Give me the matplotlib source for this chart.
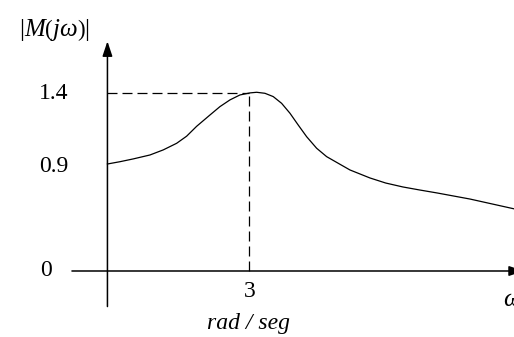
import matplotlib
matplotlib.use("Agg")
import matplotlib.pyplot as plt

plt.rcParams["font.family"] = ["Liberation Serif", "DejaVu Serif"]
plt.rcParams["mathtext.fontset"] = "custom"
plt.rcParams["mathtext.rm"] = "Liberation Serif"
plt.rcParams["mathtext.it"] = "Liberation Serif:italic"

# curva |M(jw)| (w en rad/seg)
w = [0.0, 0.264, 0.545, 0.898, 1.179, 1.462, 1.673, 1.885, 2.166, 2.377,
     2.589, 2.8, 3.011, 3.152, 3.328, 3.503, 3.68, 3.856, 4.031, 4.209,
     4.42, 4.631, 4.912, 5.124, 5.546, 5.88, 6.243, 6.6, 6.962, 7.659, 8.6]
M = [0.843, 0.861, 0.883, 0.914, 0.954, 1.006, 1.062, 1.14, 1.229, 1.295,
     1.348, 1.387, 1.403, 1.408, 1.4, 1.374, 1.321, 1.243, 1.15, 1.058,
     0.967, 0.901, 0.841, 0.796, 0.733, 0.693, 0.662, 0.638, 0.615, 0.567, 0.489]

# marcas del eje vertical (posicion en la figura, texto)
y_pos = [0.0, 0.825, 1.4]
y_txt = ["0", "0.9", "1.4"]
w_pico = 3
M_pico = 1.4

fig = plt.figure(figsize=(5.14, 3.37), dpi=100)
ax = fig.add_axes([0, 0, 1, 1])
ax.set_xlim(-2.27, 8.59)
ax.set_ylim(-0.52, 2.135)
ax.axis("off")

# ejes con flecha
flecha = dict(arrowstyle="-|>,head_length=0.9,head_width=0.3",
              color="black", lw=1.1, shrinkA=0, shrinkB=0)
ax.annotate("", xy=(0, 1.81), xytext=(0, -0.28), arrowprops=flecha,
            annotation_clip=False)
ax.annotate("", xy=(8.8, 0), xytext=(-0.75, 0), arrowprops=flecha,
            annotation_clip=False)

# lineas punteadas al pico
ax.plot([0, w_pico], [M_pico, M_pico], color="black", lw=0.9, ls=(0, (8, 4)))
ax.plot([w_pico, w_pico], [0, M_pico], color="black", lw=0.9, ls=(0, (8, 4)))

ax.plot(w, M, color="black", lw=0.9)

for p, t in zip(y_pos, y_txt):
    x_txt = -1.17 if t == "0" else -0.83
    ax.text(x_txt, p, t, fontsize=17, ha="right", va="center")

ax.text(w_pico, -0.165, "3", fontsize=17, ha="center", va="center")
ax.text(2.97, -0.41, "rad / seg", fontsize=17, style="italic", ha="center", va="center")
ax.text(8.36, -0.23, r"$\omega$", fontsize=18, ha="left", va="center")
ax.text(-1.13, 1.9, r"$\left|M\left(j\omega\right)\right|$", fontsize=18,
        ha="center", va="center")

fig.savefig("out.png", dpi=100)
